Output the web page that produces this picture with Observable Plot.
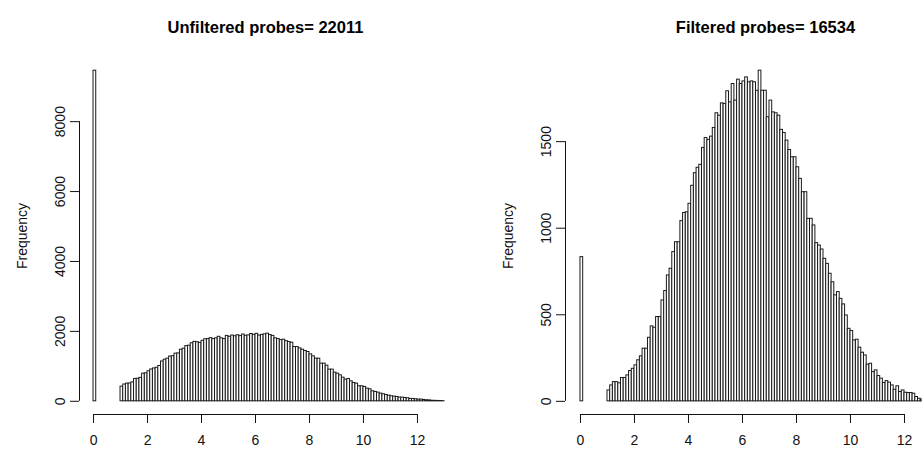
<!DOCTYPE html>
<html><head><meta charset="utf-8">
<script src="https://cdn.jsdelivr.net/npm/d3@7"></script>
<script src="https://cdn.jsdelivr.net/npm/@observablehq/plot@0.6"></script>
<style>
body{margin:0;background:#fff;}
#wrap{display:flex;width:922px;height:453px;overflow:hidden;}
#wrap svg{flex:none;}
</style></head><body><div id="wrap"></div>
<script>
// ---- data ----
const binWidth = 0.1;
const leftTitle = "Unfiltered probes= 22011";
const rightTitle = "Filtered probes= 16534";
const leftZeroCount = 9457;   // bin [0, 0.1)
const rightZeroCount = 833;
// bins of width 0.1 starting at 1.0
const leftCounts = [
  420, 480, 505, 510, 540, 640, 645, 670, 790, 800,
  860, 910, 940, 960, 1010, 1140, 1190, 1220, 1280, 1290,
  1362, 1370, 1476, 1505, 1580, 1590, 1660, 1700, 1690, 1670,
  1730, 1775, 1780, 1805, 1780, 1800, 1845, 1800, 1780, 1870,
  1845, 1880, 1860, 1890, 1865, 1910, 1875, 1885, 1925, 1900,
  1930, 1880, 1900, 1915, 1935, 1895, 1870, 1800, 1780, 1750,
  1762, 1720, 1695, 1676, 1552, 1552, 1514, 1476, 1438, 1410,
  1343, 1286, 1219, 1219, 1076, 1076, 1019, 905, 905, 819,
  790, 743, 676, 619, 638, 571, 524, 505, 429, 429,
  410, 362, 343, 286, 267, 248, 219, 200, 181, 162,
  143, 133, 124, 105, 105, 95, 86, 67, 67, 57,
  48, 48, 38, 29, 25, 15, 12, 10, 8, 5
];
const rightCounts = [
  63, 92, 111, 111, 104, 135, 135, 150, 175, 188,
  208, 237, 260, 304, 304, 367, 433, 425, 487, 487,
  583, 637, 727, 766, 862, 919, 919, 1041, 1088, 1092,
  1141, 1245, 1318, 1349, 1366, 1464, 1521, 1510, 1529, 1579,
  1664, 1650, 1721, 1718, 1791, 1727, 1833, 1737, 1858, 1833,
  1848, 1871, 1843, 1848, 1843, 1794, 1910, 1794, 1794, 1641,
  1737, 1669, 1664, 1650, 1568, 1550, 1506, 1452, 1410, 1410,
  1352, 1285, 1208, 1208, 1054, 1054, 1016, 914, 900, 877,
  823, 794, 737, 688, 612, 631, 592, 560, 496, 419,
  406, 352, 356, 310, 281, 265, 212, 217, 169, 179,
  146, 131, 106, 117, 108, 92, 67, 87, 54, 63,
  50, 48, 48, 44, 25, 15, 10
];
const xTicks = [0, 2, 4, 6, 8, 10, 12];
const leftYTicks = [0, 2000, 4000, 6000, 8000];
const rightYTicks = [0, 500, 1000, 1500];
const yLabel = "Frequency";

function makeBins(zero, counts) {
  const b = [{x1: 0, x2: binWidth, n: zero}];
  counts.forEach((n, i) => b.push({x1: 1 + i * binWidth, x2: 1 + (i + 1) * binWidth, n}));
  return b;
}

const FONT = "'Liberation Sans', Arial, Helvetica, sans-serif";

function panel({bins, xDomain, yDomain, yTicks, marginLeft, marginRight, title, titleCenter}) {
  const frameL = marginLeft;
  return Plot.plot({
    width: 461, height: 453,
    marginLeft, marginRight, marginTop: 57, marginBottom: 39,
    x: {domain: xDomain, ticks: xTicks, tickSize: 9, tickFormat: () => "", label: null},
    y: {domain: yDomain, ticks: yTicks, tickSize: 9, tickFormat: () => "", label: null},
    style: {fontFamily: FONT, fontSize: "14px", color: "#111", background: "white", overflow: "hidden"},
    marks: [
      Plot.rect(bins, {x1: "x1", x2: "x2", y1: 0, y2: "n", fill: "white", stroke: "#1a1a1a", strokeWidth: 1, inset: 0, clip: true}),
      // y axis line and labels
      Plot.ruleX([xDomain[0]], {y1: yTicks[0], y2: yTicks[yTicks.length - 1], stroke: "#111"}),
      Plot.text(yTicks, {y: d => d, frameAnchor: "left", dx: -19, rotate: -90, textAnchor: "middle", text: d => String(d), fontSize: 14, fill: "#111"}),
      Plot.text([yLabel], {frameAnchor: "left", dx: -57, rotate: -90, textAnchor: "middle", fontSize: 14, fill: "#111"}),
      // x axis line and labels
      Plot.ruleY([yDomain[0]], {x1: xTicks[0], x2: xTicks[xTicks.length - 1], stroke: "#111"}),
      Plot.text(xTicks, {x: d => d, frameAnchor: "bottom", dy: 30, text: d => String(d), fontSize: 14, fill: "#111"}),
      // title
      Plot.text([title], {frameAnchor: "top-left", dx: titleCenter - frameL, dy: -36, textAnchor: "middle", fontWeight: "bold", fontSize: 16.5, fill: "#000"})
    ]
  });
}

const wrap = document.getElementById("wrap");
wrap.appendChild(panel({
  bins: makeBins(leftZeroCount, leftCounts),
  xDomain: [-0.52, 13.52], yDomain: [-378, 9835], yTicks: leftYTicks,
  marginLeft: 79, marginRight: 3, title: leftTitle, titleCenter: 265
}));
wrap.appendChild(panel({
  bins: makeBins(rightZeroCount, rightCounts),
  xDomain: [-0.555, 12.667], yDomain: [-76, 1986], yTicks: rightYTicks,
  marginLeft: 104, marginRight: 0, title: rightTitle, titleCenter: 304
}));
</script></body></html>
